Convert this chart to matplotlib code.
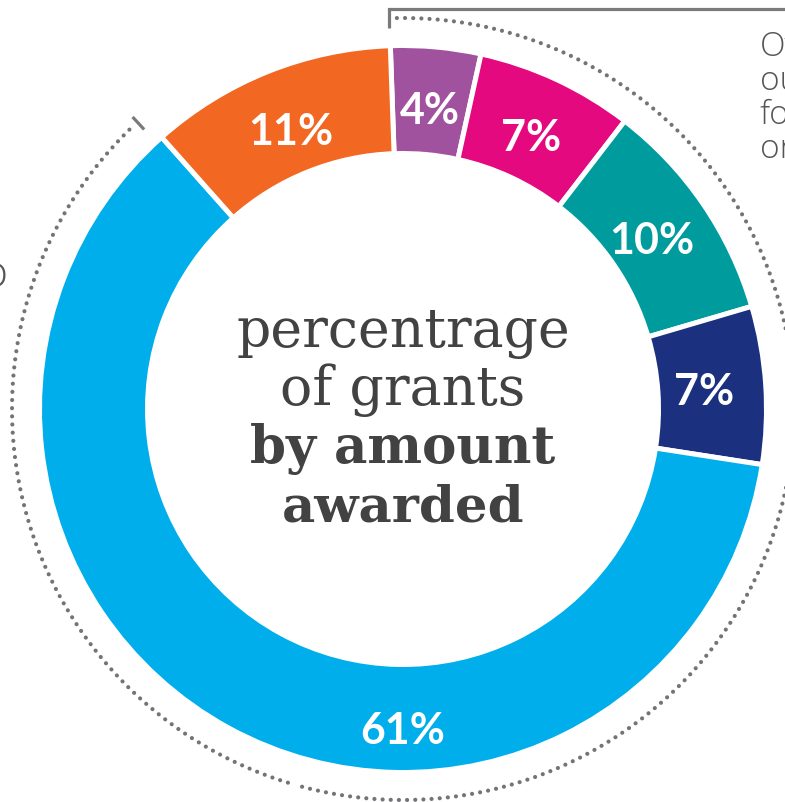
import numpy as np
import matplotlib
matplotlib.use('Agg')
import matplotlib.pyplot as plt

# ---- data ----
values = [4, 7, 10, 7, 61, 11]
labels = ['4%', '7%', '10%', '7%', '61%', '11%']
colors = ['#A0529F', '#E4097F', '#009C9D', '#1B3180', '#00AEEC', '#F26722']
center_lines = ['percentrage', 'of grants', 'by amount', 'awarded']
center_weights = ['normal', 'normal', 'bold', 'bold']
right_lines = ['Ov', 'ou', 'fo', 'or']
left_text = 'o'

W, H = 785, 802
fig = plt.figure(figsize=(W / 100, H / 100), dpi=100)
ax = fig.add_axes([0, 0, 1, 1])

cx, cy = 403, H - 409
R_vis, r_in = 361, 258
lw_px = 5
lw_pt = lw_px * 72 / 100
R = R_vis + lw_px / 2
width = R - (r_in - lw_px / 2)
start_cw = -2.0  # degrees clockwise from 12 o'clock

ax.pie(values, colors=colors, radius=R, center=(cx, cy),
       startangle=90 - start_cw, counterclock=False,
       wedgeprops=dict(width=width, edgecolor='white', linewidth=lw_pt),
       frame=True)
ax.set_xlim(0, W)
ax.set_ylim(0, H)
ax.set_aspect('equal')
ax.axis('off')

# percentage labels
cum = np.cumsum([0] + values)
for i, (v, lab) in enumerate(zip(values, labels)):
    mid = start_cw + (cum[i] + cum[i + 1]) / 2 * 3.6
    rr = 302
    if v == max(values):
        mid, rr = 180.0, 319
    x = cx + rr * np.sin(np.radians(mid))
    y = cy + rr * np.cos(np.radians(mid))
    ax.text(x, y - 16, lab, ha='center', va='baseline', color='white',
            fontsize=31, fontweight='bold', family='Lato')

# dotted arcs
def arc(t0, t1, r, n=600):
    t = np.radians(np.linspace(t0, t1, n))
    return cx + r * np.sin(t), cy + r * np.cos(t)

dot_kw = dict(color='#737378', lw=3.0, linestyle=(0, (0.01, 1.95)),
              dash_capstyle='round')
x, y = arc(-0.9, 196, 391)
ax.plot(x, y, **dot_kw)
x, y = arc(-44.4, -164, 391)
ax.plot(x, y, **dot_kw)

# bracket at top and tick on the left
gray = '#7A7A7A'
ax.plot([388.5, 388.5, W + 5], [H - 28, H - 9, H - 9], color=gray, lw=2.3,
        solid_joinstyle='miter', solid_capstyle='butt')
tk = np.radians(-42.8)
ax.plot([cx + 381 * np.sin(tk), cx + 398 * np.sin(tk)],
        [cy + 381 * np.cos(tk), cy + 398 * np.cos(tk)],
        color=gray, lw=2.3, solid_capstyle='butt')

# side texts (cropped at the edge, as in the reference)
for j, s in enumerate(right_lines):
    ax.text(760, H - (56 + 34 * j), s, ha='left', va='baseline',
            fontsize=24, color='#555555', family='Open Sans',
            fontweight='light')
ax.text(8, H - 287, left_text, ha='right', va='baseline', fontsize=32,
        color='#555555', family='Open Sans', fontweight='light')

# center title, fitted to target widths
renderer = fig.canvas.get_renderer()
target_w = [333, 245, 305, 242]
baselines = [347, 405, 463, 522]
for s, wt, tw, b in zip(center_lines, center_weights, target_w, baselines):
    t = ax.text(cx, H - b, s, ha='center', va='baseline', fontsize=40,
                fontweight=wt, family='DejaVu Serif', color='#424242')
    w = t.get_window_extent(renderer).width
    t.set_fontsize(40 * tw / w)

fig.savefig('out.png', dpi=100)
